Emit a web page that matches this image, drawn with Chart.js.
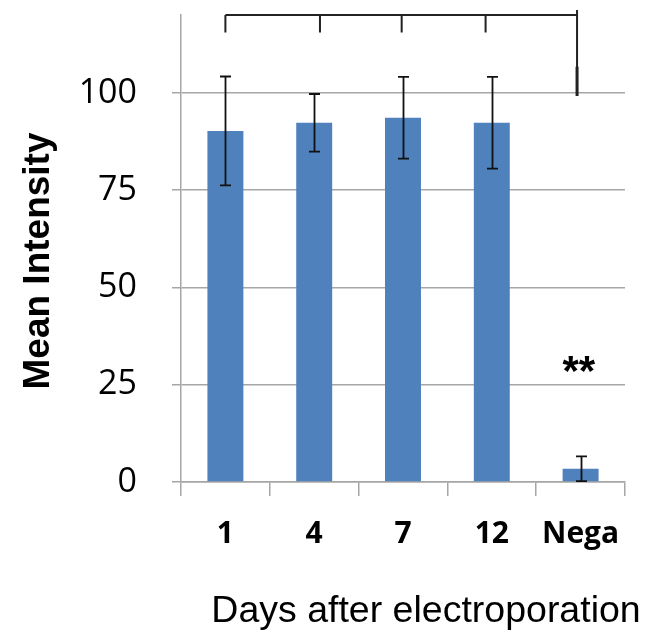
<!DOCTYPE html>
<html>
<head>
<meta charset="utf-8">
<script src="https://cdn.jsdelivr.net/npm/chart.js@4/dist/chart.umd.min.js"></script>
<style>
  html, body { margin: 0; padding: 0; background: #ffffff; }
  #wrap { width: 651px; height: 637px; }
</style>
</head>
<body>
<div id="wrap"><canvas id="c" width="651" height="637"></canvas></div>
<script>
// ---- data ----
const categories = ["1", "4", "7", "12", "Nega"];
const meanIntensity = [90.2, 92.3, 93.6, 92.3, 3.4];
const errorSD = [14.0, 7.4, 10.5, 11.8, 3.2];
const yTickValues = [0, 25, 50, 75, 100];
const yAxisTitle = "Mean Intensity";
const xAxisTitle = "Days after electroporation";
// significance bracket (category positions and y values)
const bracketDrops = [0, 1.065, 1.985, 2.93];
const bracketEnd = 3.96;
const bracketTopValue = 120;
const bracketDropValue = 115.5;
const bracketEndValue = 99.2;
const sigLabel = "**";
const sigPosition = [3.98, 30];

const GRID = "#a6a6a6";
const BAR = "#4f81bd";

const errorBarPlugin = {
  id: "errorBars",
  afterDatasetsDraw(chart) {
    const ctx = chart.ctx;
    const y = chart.scales.y;
    const meta = chart.getDatasetMeta(0);
    const area = chart.chartArea;
    ctx.save();
    ctx.beginPath();
    ctx.rect(area.left, area.top - 20, area.right - area.left, area.bottom - area.top + 20);
    ctx.clip();
    ctx.strokeStyle = "#111";
    ctx.lineWidth = 1.8;
    meta.data.forEach((bar, i) => {
      const v = meanIntensity[i], e = errorSD[i];
      const x = Math.round(bar.x) + 0.5;
      const yt = y.getPixelForValue(v + e);
      const yb = y.getPixelForValue(v - e);
      const cap = 5.5;
      ctx.beginPath();
      ctx.moveTo(x, yt); ctx.lineTo(x, yb);
      ctx.moveTo(x - cap, yt); ctx.lineTo(x + cap, yt);
      ctx.moveTo(x - cap, yb); ctx.lineTo(x + cap, yb);
      ctx.stroke();
    });
    ctx.restore();
  },
  afterDraw(chart) {
    const ctx = chart.ctx;
    const xs = chart.scales.x, ys = chart.scales.y;
    ctx.save();
    // bracket
    ctx.strokeStyle = "#222";
    ctx.lineWidth = 2;
    const yTop = ys.getPixelForValue(bracketTopValue);
    const yDrop = ys.getPixelForValue(bracketDropValue);
    const xStart = xs.getPixelForValue(bracketDrops[0]);
    const xEnd = xs.getPixelForValue(bracketEnd);
    ctx.beginPath();
    ctx.moveTo(xStart, yTop); ctx.lineTo(xEnd, yTop);
    bracketDrops.forEach(p => {
      const px = xs.getPixelForValue(p);
      ctx.moveTo(px, yTop); ctx.lineTo(px, yDrop);
    });
    ctx.moveTo(xEnd, yTop - 5); ctx.lineTo(xEnd, ys.getPixelForValue(bracketEndValue));
    ctx.stroke();
    ctx.lineWidth = 3;
    ctx.beginPath();
    ctx.moveTo(xEnd, ys.getPixelForValue(bracketEndValue + 7.5));
    ctx.lineTo(xEnd, ys.getPixelForValue(bracketEndValue));
    ctx.stroke();
    // significance
    ctx.fillStyle = "#000";
    ctx.font = "bold 42px 'Liberation Sans', Arial, sans-serif";
    ctx.textAlign = "center";
    ctx.textBaseline = "middle";
    ctx.fillText(sigLabel, xs.getPixelForValue(sigPosition[0]), ys.getPixelForValue(sigPosition[1]) + 8);
    // axis titles
    ctx.font = "37.5px 'Liberation Sans', Arial, sans-serif";
    ctx.textBaseline = "alphabetic";
    ctx.fillText(xAxisTitle, 426, 622);
    ctx.translate(49, 261);
    ctx.rotate(-Math.PI / 2);
    ctx.font = "bold 37px 'Liberation Sans', Arial, sans-serif";
    ctx.fillText(yAxisTitle, 0, 0);
    ctx.restore();
  }
};

new Chart(document.getElementById("c"), {
  type: "bar",
  data: {
    labels: categories,
    datasets: [{
      data: meanIntensity,
      backgroundColor: BAR,
      borderWidth: 0,
      barPercentage: 0.405,
      categoryPercentage: 1.0
    }]
  },
  options: {
    responsive: false,
    animation: false,
    devicePixelRatio: 1,
    layout: { padding: { top: 15, right: 26, left: 0, bottom: 0 } },
    plugins: { legend: { display: false }, tooltip: { enabled: false } },
    scales: {
      x: {
        offset: true,
        grid: { offset: true, drawOnChartArea: false, drawTicks: true, tickLength: 14, color: GRID, lineWidth: 1.5 },
        border: { display: true, color: GRID, width: 1.5 },
        ticks: { color: "#000", padding: 20, font: { family: "'Open Sans', 'Liberation Sans', sans-serif", size: 30, weight: "bold" }, maxRotation: 0 },
        afterFit(scale) { scale.height = 637 - 482; scale.paddingLeft = 0; scale.paddingRight = 0; }
      },
      y: {
        min: 0,
        max: 120,
        afterBuildTicks(scale) { scale.ticks = yTickValues.map(v => ({ value: v })); },
        grid: { color: GRID, lineWidth: 1.5, drawTicks: true, tickLength: 9 },
        border: { display: true, color: GRID, width: 1.5 },
        ticks: { color: "#000", padding: 35, font: { family: "'Open Sans', 'Liberation Sans', sans-serif", size: 34 } },
        afterFit(scale) { scale.width = 181; scale.paddingTop = 0; scale.paddingBottom = 0; }
      }
    }
  },
  plugins: [errorBarPlugin]
});
</script>
</body>
</html>
